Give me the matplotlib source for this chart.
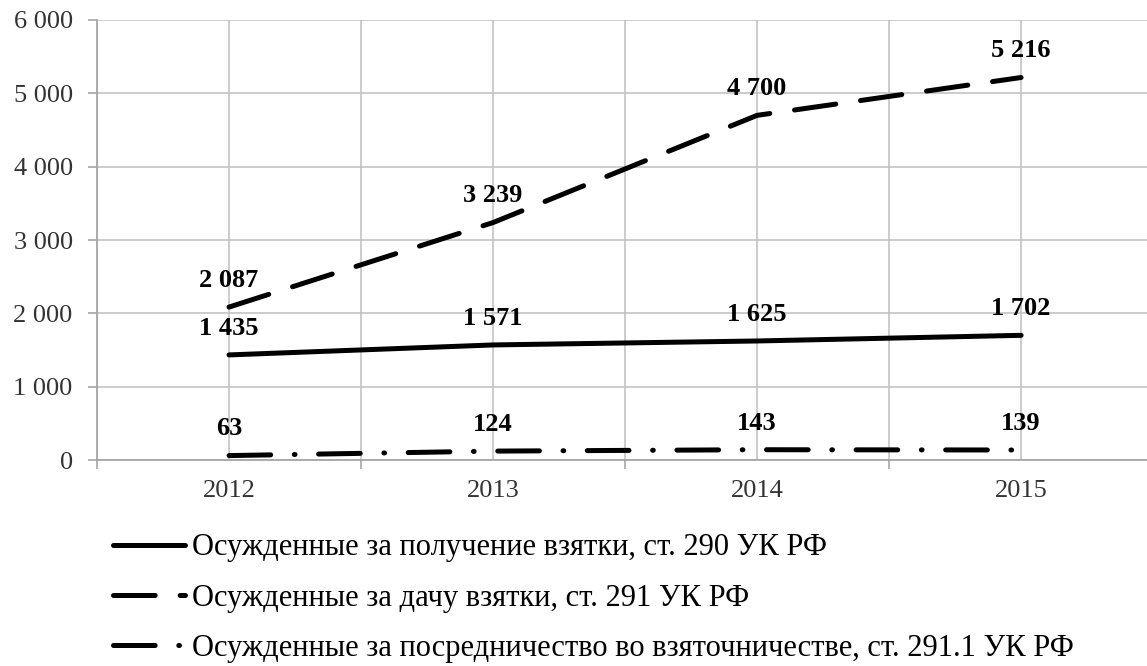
import matplotlib
matplotlib.use("Agg")
import matplotlib.pyplot as plt
from matplotlib.ticker import FixedLocator

years = [2012, 2013, 2014, 2015]
bribe_taking = [1435, 1571, 1625, 1702]
bribe_giving = [2087, 3239, 4700, 5216]
mediation = [63, 124, 143, 139]

series_labels = [
    "Осужденные за получение взятки, ст. 290 УК РФ",
    "Осужденные за дачу взятки, ст. 291 УК РФ",
    "Осужденные за посредничество во взяточничестве, ст. 291.1 УК РФ",
]
y_ticks = [0, 1000, 2000, 3000, 4000, 5000, 6000]


def fmt_num(v):
    # пробел как разделитель тысяч
    return f"{v:,}".replace(",", " ")


plt.rcParams["font.family"] = "Liberation Serif"
plt.rcParams["lines.scale_dashes"] = False

fig = plt.figure(figsize=(11.47, 6.66), dpi=100)
ax = fig.add_axes([0.0846, 0.309, 0.9207, 0.661])

styles = [
    dict(linestyle="-"),
    dict(dashes=(30, 18)),
    dict(dashes=(30, 17, 0.5, 17)),
]
lines = []
for vals, label, st in zip([bribe_taking, bribe_giving, mediation], series_labels, styles):
    (ln,) = ax.plot(years, vals, color="black", lw=3.6, label=label,
                    solid_capstyle="round", dash_capstyle="round", **st)
    lines.append(ln)
    for x, v in zip(years, vals):
        ax.annotate(fmt_num(v), (x, v), xytext=(0, 14.5), textcoords="offset points",
                    ha="center", va="baseline", fontsize=19, fontweight="bold",
                    color="black")

ax.set_xlim(2011.5, 2015.5)
ax.set_ylim(0, 6000)
ax.set_xticks(years)
ax.set_xticklabels([str(y) for y in years])
ax.xaxis.set_minor_locator(FixedLocator([2011.5, 2012.5, 2013.5, 2014.5, 2015.5]))
ax.set_yticks(y_ticks)
ax.set_yticklabels([fmt_num(v) for v in y_ticks])

grid_c = "#c3c3c3"
ax.grid(True, which="both", color=grid_c, lw=1.2)
ax.set_axisbelow(True)
ax.tick_params(axis="x", which="major", length=0, pad=14, labelsize=19, labelcolor="#333333")
ax.tick_params(axis="x", which="minor", length=6.5, width=1.2, color="#a6a6a6")
ax.tick_params(axis="y", length=6.5, width=1.2, color="#a6a6a6", pad=11,
               labelsize=19, labelcolor="#333333")
for side in ("top", "right"):
    ax.spines[side].set_visible(False)
for side in ("left", "bottom"):
    ax.spines[side].set_color("#a6a6a6")
    ax.spines[side].set_linewidth(1.3)

fig.legend(handles=lines, loc="upper left", bbox_to_anchor=(0.0985, 0.199),
           frameon=False, fontsize=22, handlelength=2.35, handletextpad=0.25,
           labelspacing=0.69, borderaxespad=0, borderpad=0)

fig.savefig("out.png", dpi=100, facecolor="white")
